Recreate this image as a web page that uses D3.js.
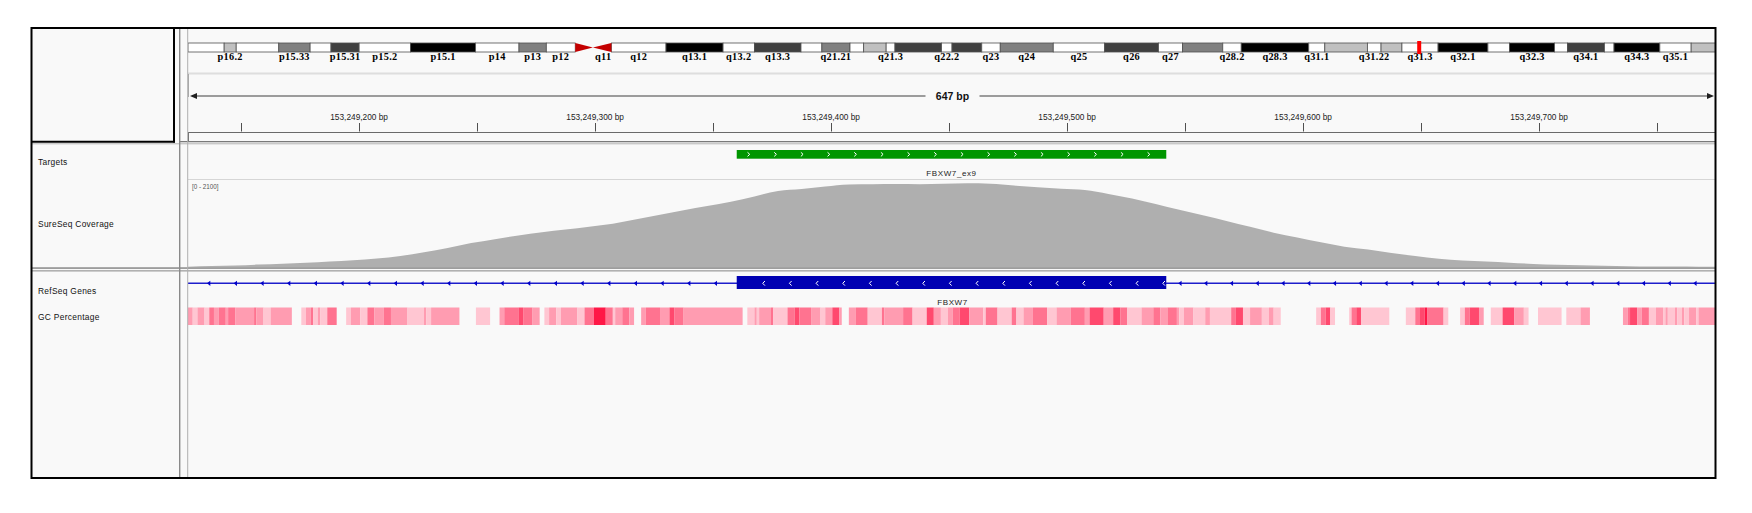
<!DOCTYPE html>
<html>
<head>
<meta charset="utf-8">
<script src="https://cdn.jsdelivr.net/npm/d3@7/dist/d3.min.js"></script>
<style>
  body { margin: 0; background: #fff; }
  svg { display: block; }
</style>
</head>
<body>
<svg id="igv"></svg>
<script>
// ---- data ----
const viewStart = 153249127.5, viewEnd = 153249774.5;   // 647 bp window, chr4
const rulerTicks = [153249150, 153249200, 153249250, 153249300, 153249350, 153249400, 153249450,
                    153249500, 153249550, 153249600, 153249650, 153249700, 153249750];
const rulerLabels = [153249200, 153249300, 153249400, 153249500, 153249600, 153249700];

// chr4 cytobands (Mb)
const bandNames = ["p16.3","p16.2","p16.1","p15.33","p15.32","p15.31","p15.2","p15.1","p14","p13","p12","p11",
                   "q11","q12","q13.1","q13.2","q13.3","q21.1","q21.21","q21.22","q21.23","q21.3","q22.1","q22.2",
                   "q22.3","q23","q24","q25","q26","q27","q28.1","q28.2","q28.3","q31.1","q31.21","q31.22","q31.23",
                   "q31.3","q32.1","q32.2","q32.3","q33","q34.1","q34.2","q34.3","q35.1","q35.2"];
const bandEnds = [4.5,6.0,11.3,15.2,17.8,21.3,27.7,35.8,41.2,44.6,48.2,50.4,52.7,59.5,66.6,70.5,76.3,78.9,82.4,
                  84.1,86.9,88.0,93.8,95.1,98.8,101.1,107.7,114.1,120.8,123.8,128.8,131.1,139.5,141.5,146.8,148.5,
                  151.1,155.6,161.8,164.5,170.1,171.7,176.3,177.5,183.2,187.1,191.2];
const bandStains = ["gneg","gpos25","gneg","gpos50","gneg","gpos75","gneg","gpos100","gneg","gpos50","gneg","acen",
                    "acen","gneg","gpos100","gneg","gpos75","gneg","gpos50","gneg","gpos25","gneg","gpos75","gneg",
                    "gpos75","gneg","gpos50","gneg","gpos75","gneg","gpos50","gneg","gpos100","gneg","gpos25","gneg",
                    "gpos25","gneg","gpos100","gneg","gpos100","gneg","gpos75","gneg","gpos100","gneg","gpos25"];
const shownBandLabels = ["p16.2","p15.33","p15.31","p15.2","p15.1","p14","p13","p12","q11","q12","q13.1","q13.2",
                         "q13.3","q21.21","q21.3","q22.2","q23","q24","q25","q26","q27","q28.2","q28.3","q31.1",
                         "q31.22","q31.3","q32.1","q32.3","q34.1","q34.3","q35.1"];

// target + gene
const targetName = "FBXW7_ex9", targetStart = 153249360, targetEnd = 153249542;
const geneName = "FBXW7", exonStart = 153249360, exonEnd = 153249542;

// SureSeq coverage (bp offset from window start -> depth)
const covOffsets = [0,10,20,30,40,50,60,70,80,90,100,110,120,130,140,150,160,170,180,190,200,210,220,230,240,
                    250,260,270,280,290,300,310,320,330,340,350,360,370,380,390,400,410,420,430,440,450,460,470,
                    480,490,500,510,520,530,540,550,560,570,580,590,600,610,620,630,640,647];
const coverage = [15,30,45,65,85,110,140,170,210,270,360,460,580,675,760,840,905,975,1045,1150,1260,1370,1470,
                  1570,1700,1830,1880,1935,1985,1990,1995,1990,2000,2012,2005,1960,1920,1885,1855,1760,1650,1520,
                  1380,1247,1110,970,830,715,600,495,425,340,270,205,165,138,112,82,64,50,36,28,22,18,14,12];
const covMax = 2100;

// GC percentage runs (bp offset where the run starts -> GC %, 0 = no data)
const gcStart = [0,2,4,7,9,11,13,16,17,20, 28,29,32,35,44,48,50,52,53,55, 56,59,63,67,69,73,76,79,83,86,
                 93,100,101,103,115,122,128,132,134,140, 142,146,149,151,153,156,158,165,168,172,
                 177,180,181,184,187,189,192,194,200,204, 206,210,235,237,240,241,242,247,248,254,
                 257,259,264,268,270,273,276,277,280,283, 288,294,295,303,307,313,316,319,322,324,
                 327,331,337,338,343,349,351,354,358,364, 368,374,380,382,388,392,395,398,404,409,
                 412,415,419,
                 420,422,426,431,433,442,444,447,450,455, 458,460,463,478,480,482,484,486,492,493,
                 495,497,509,516,520,522,524,525,532,534, 539,541,543,547,549,552,557,562,566,568,
                 572,582,584,590,594,608,610,611,614,616, 619,622,625,626,627,630,631,633,634,636,
                 639,640];
const gcPct = [50,40,50,40,60,50,60,50,60,50, 60,50,40,50,0,40,50,60,40,50, 40,60,0,40,50,40,60,50,60,50,
               40,50,40,50,0,40,0,50,60,70, 60,50,0,40,50,40,50,40,60,82, 60,40,50,60,50,0,50,60,50,70,
               60,50,0,40,50,40,50,60,40,60, 70,60,50,40,50,70,50,0,50,60, 40,60,50,60,40,70,50,40,50,60,
               70,50,40,60,40,60,40,50,60,40, 50,60,50,70,50,70,60,40,50,60,
               50,60,50,
               40,50,40,50,40,60,70,40,50,40, 50,40,0,40,60,70,40,0,40,60,
               70,40,0,40,60,70,82,60,40,0, 40,60,70,50,0,40,70,50,40,0,
               40,0,40,50,0,50,60,70,50,60, 40,50,40,50,40,50,40,50,40,50,
               40,50];

const trackNames = ["Targets", "SureSeq Coverage", "RefSeq Genes", "GC Percentage"];

// ---- drawing ----
const width = 1752, height = 513;
const dataLeft = 188, dataRight = 1715;
const svg = d3.select('#igv').attr('width', width).attr('height', height);
const sans = "'Liberation Sans', Arial, sans-serif";

svg.append('rect').attr('x', 31).attr('y', 27.5).attr('width', 1685).attr('height', 451).attr('fill', '#f9f9f9');

svg.append('defs').append('clipPath').attr('id', 'dataClip')
    .append('rect').attr('x', dataLeft).attr('y', 28).attr('width', dataRight - dataLeft).attr('height', 450);

const x = d3.scaleLinear().domain([viewStart, viewEnd]).range([dataLeft, dataRight]);
const data = svg.append('g').attr('clip-path', 'url(#dataClip)');

// ideogram
const bands = bandNames.map((n, i) => ({
    name: n, start: i ? bandEnds[i - 1] : 0, end: bandEnds[i], stain: bandStains[i]
}));
const ideoX = d3.scaleLinear().domain([0, 191.2]).range([dataLeft, dataLeft + 191.2 * 8.034]);
const stainColor = { gneg: '#ffffff', gpos25: '#c0c0c0', gpos50: '#808080', gpos75: '#404040', gpos100: '#000000' };
const ideoTop = 43, ideoH = 9;

data.selectAll('.band').data(bands.filter(b => b.stain !== 'acen'))
    .enter().append('rect')
    .attr('class', 'band')
    .attr('x', d => ideoX(d.start)).attr('y', ideoTop)
    .attr('width', d => ideoX(d.end) - ideoX(d.start)).attr('height', ideoH)
    .attr('fill', d => stainColor[d.stain])
    .attr('stroke', '#505050').attr('stroke-width', 0.8);

bands.filter(b => b.stain === 'acen').forEach(b => {
    const x0 = ideoX(b.start), x1 = ideoX(b.end), ym = ideoTop + ideoH / 2;
    const pts = b.name.startsWith('p')
        ? [[x0, ideoTop], [x1, ym], [x0, ideoTop + ideoH]]
        : [[x1, ideoTop], [x0, ym], [x1, ideoTop + ideoH]];
    data.append('polygon').attr('points', pts.map(p => p.join(',')).join(' ')).attr('fill', '#c40000');
});

data.selectAll('.band-label').data(bands.filter(b => shownBandLabels.includes(b.name)))
    .enter().append('text')
    .attr('class', 'band-label')
    .attr('x', d => (ideoX(d.start) + ideoX(d.end)) / 2 + (d.name === 'q11' ? 1 : 0))
    .attr('y', 60)
    .attr('text-anchor', 'middle')
    .attr('font-family', "'Liberation Serif', 'Times New Roman', serif")
    .attr('font-weight', 'bold').attr('font-size', '10.3px')
    .attr('letter-spacing', '0.3px')
    .attr('fill', '#000')
    .text(d => d.name);

// current location marker
const locMb = viewStart / 1e6;
data.append('rect').attr('x', ideoX(locMb) - 2).attr('y', 41).attr('width', 4).attr('height', 13).attr('fill', '#ff0000');

// ruler
data.append('rect').attr('x', dataLeft).attr('y', 72.5).attr('width', dataRight - dataLeft).attr('height', 2).attr('fill', '#dedede');
svg.append('line').attr('x1', dataLeft + 0.5).attr('x2', dataLeft + 0.5).attr('y1', 74).attr('y2', 97).attr('stroke', '#a8a8a8');

const spanLabel = `${Math.round(viewEnd - viewStart)} bp`;
const midX = (dataLeft + dataRight) / 2;
const arrowY = 96;
svg.append('line').attr('x1', dataLeft + 4).attr('x2', midX - 26).attr('y1', arrowY).attr('y2', arrowY)
    .attr('stroke', '#404040').attr('stroke-width', 1.2);
svg.append('line').attr('x1', midX + 28).attr('x2', dataRight - 4).attr('y1', arrowY).attr('y2', arrowY)
    .attr('stroke', '#404040').attr('stroke-width', 1.2);
svg.append('polygon').attr('points', `${dataLeft + 2},${arrowY} ${dataLeft + 9},${arrowY - 3} ${dataLeft + 9},${arrowY + 3}`).attr('fill', '#202020');
svg.append('polygon').attr('points', `${dataRight - 1},${arrowY} ${dataRight - 8},${arrowY - 3} ${dataRight - 8},${arrowY + 3}`).attr('fill', '#202020');
svg.append('text').attr('x', midX + 1).attr('y', arrowY + 4)
    .attr('text-anchor', 'middle').attr('font-family', sans).attr('font-weight', 'bold').attr('font-size', '10.5px')
    .attr('fill', '#111').text(spanLabel);

data.selectAll('.tick').data(rulerTicks).enter().append('line')
    .attr('class', 'tick')
    .attr('x1', d => Math.round(x(d)) + 0.5).attr('x2', d => Math.round(x(d)) + 0.5)
    .attr('y1', 123).attr('y2', 131.5)
    .attr('stroke', '#505050').attr('stroke-width', 1);

const fmt = d3.format(',');
data.selectAll('.tick-label').data(rulerLabels).enter().append('text')
    .attr('class', 'tick-label')
    .attr('x', d => x(d)).attr('y', 119.5)
    .attr('text-anchor', 'middle').attr('font-family', sans).attr('font-size', '8.3px')
    .attr('fill', '#222').text(d => fmt(d) + ' bp');

svg.append('line').attr('x1', dataLeft).attr('x2', dataRight).attr('y1', 132.5).attr('y2', 132.5).attr('stroke', '#6a6a6a');
svg.append('line').attr('x1', dataLeft + 0.5).attr('x2', dataLeft + 0.5).attr('y1', 132).attr('y2', 141).attr('stroke', '#6a6a6a');

// header / panel separators
svg.append('rect').attr('x', 180).attr('y', 141).attr('width', dataRight - 180).attr('height', 1.3).attr('fill', '#7a7a7a');
svg.append('rect').attr('x', 31).attr('y', 143.3).attr('width', dataRight - 31).attr('height', 1).attr('fill', '#b5b5b5');
svg.append('rect').attr('x', 31).attr('y', 267.4).attr('width', dataRight - 31).attr('height', 1.3).attr('fill', '#777');
svg.append('rect').attr('x', 31).attr('y', 270.2).attr('width', dataRight - 31).attr('height', 1.3).attr('fill', '#a0a0a0');

// targets track
const tY = 150, tH = 8.7;
data.append('rect').attr('x', x(targetStart)).attr('y', tY).attr('width', x(targetEnd) - x(targetStart)).attr('height', tH)
    .attr('fill', '#009600');
for (let cx = x(targetStart) + 12; cx < x(targetEnd) - 6; cx += 26.67) {
    data.append('path').attr('d', `M${cx - 1.2},${tY + 2.3} L${cx + 1},${tY + tH / 2} L${cx - 1.2},${tY + tH - 2.3}`)
        .attr('fill', 'none').attr('stroke', '#fff').attr('stroke-width', 1);
}
data.append('text').attr('x', (x(targetStart) + x(targetEnd)) / 2).attr('y', 176)
    .attr('text-anchor', 'middle').attr('font-family', sans).attr('font-size', '8px').attr('letter-spacing', '0.6px')
    .attr('fill', '#222').text(targetName);

// coverage track
data.append('line').attr('x1', dataLeft).attr('x2', dataRight).attr('y1', 179.5).attr('y2', 179.5).attr('stroke', '#d6d6d6');
const covY = d3.scaleLinear().domain([0, covMax]).range([267.3, 179.7]);
const area = d3.area()
    .x((d, i) => x(viewStart + covOffsets[i]))
    .y0(covY(0)).y1(d => covY(d))
    .curve(d3.curveMonotoneX);
data.append('path').datum(coverage).attr('d', area).attr('fill', '#afafaf');
svg.append('text').attr('x', 192).attr('y', 188.5).attr('font-family', sans).attr('font-size', '6.3px')
    .attr('fill', '#555').text(`[0 - ${covMax}]`);

// RefSeq genes
const gY = 283.3;
data.append('line').attr('x1', dataLeft).attr('x2', dataRight).attr('y1', gY).attr('y2', gY)
    .attr('stroke', '#1e1ecc').attr('stroke-width', 1.5);
const introns = [[dataLeft + 21, x(exonStart) - 4, 26.67], [x(exonEnd) + 14, dataRight + 10, 25.75]];
introns.forEach(([a, b, step]) => {
    for (let cx = a; cx < b; cx += step) {
        data.append('path').attr('d', `M${cx - 2},${gY} L${cx + 1.3},${gY - 2.6} L${cx + 1.3},${gY + 2.6} Z`)
            .attr('fill', '#0000c8');
    }
});
data.append('rect').attr('x', x(exonStart)).attr('y', 276).attr('width', x(exonEnd) - x(exonStart)).attr('height', 13)
    .attr('fill', '#0000b2');
for (let cx = x(exonStart) + 27; cx <= x(exonEnd) - 1; cx += 26.67) {
    data.append('path').attr('d', `M${cx + 1.2},${gY - 2.3} L${cx - 1},${gY} L${cx + 1.2},${gY + 2.3}`)
        .attr('fill', 'none').attr('stroke', '#fff').attr('stroke-width', 1);
}
data.append('text').attr('x', (x(exonStart) + x(exonEnd)) / 2 + 1).attr('y', 305)
    .attr('text-anchor', 'middle').attr('font-family', sans).attr('font-size', '8px').attr('letter-spacing', '0.6px')
    .attr('fill', '#222').text(geneName);

// GC percentage
const gcColor = d3.scaleLinear().domain([35, 85]).range(['#ffdbe3', '#ff0a3c']);
const gcRuns = gcStart.map((s, i) => ({
    start: viewStart + s,
    end: viewStart + (i < gcStart.length - 1 ? gcStart[i + 1] : viewEnd - viewStart),
    pct: gcPct[i]
})).filter(d => d.pct > 0);
data.selectAll('.gc').data(gcRuns).enter().append('rect')
    .attr('class', 'gc')
    .attr('x', d => x(d.start)).attr('y', 307.5)
    .attr('width', d => x(d.end) - x(d.start)).attr('height', 17.5)
    .attr('fill', d => gcColor(d.pct));

// name panel labels
const nameY = [165, 227, 293.5, 320];
svg.selectAll('.track-name').data(trackNames).enter().append('text')
    .attr('class', 'track-name')
    .attr('x', 38).attr('y', (d, i) => nameY[i])
    .attr('font-family', sans).attr('font-size', '8.4px').attr('letter-spacing', '0.3px')
    .attr('fill', '#111').text(d => d);

// vertical panel lines
svg.append('rect').attr('x', 179).attr('y', 28).attr('width', 1.4).attr('height', 450).attr('fill', '#8a8a8a');
svg.append('rect').attr('x', 187.2).attr('y', 28).attr('width', 1).attr('height', 450).attr('fill', '#b0b0b0');

// name header box and outer frame
svg.append('line').attr('x1', 174).attr('x2', 174).attr('y1', 28).attr('y2', 142.5).attr('stroke', '#000').attr('stroke-width', 2);
svg.append('line').attr('x1', 31).attr('x2', 175).attr('y1', 141.7).attr('y2', 141.7).attr('stroke', '#000').attr('stroke-width', 2);
svg.append('rect').attr('x', 31.5).attr('y', 28).attr('width', 1684).attr('height', 450)
    .attr('fill', 'none').attr('stroke', '#000').attr('stroke-width', 2);
</script>
</body>
</html>
